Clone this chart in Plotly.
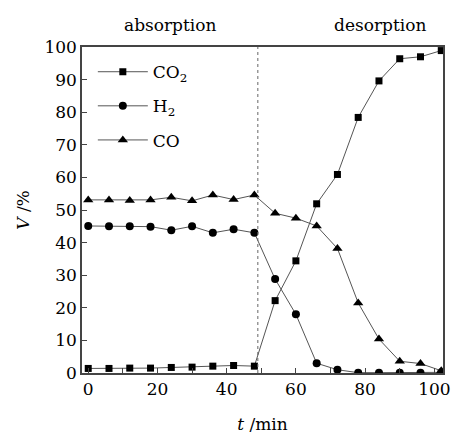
import plotly.graph_objects as go

# Sampling times (min) and gas volume fractions (%)
time_min = [0, 6, 12, 18, 24, 30, 36, 42, 48, 54, 60, 66, 72, 78, 84, 90, 96, 102]
co2 = [1.4, 1.4, 1.5, 1.5, 1.7, 1.8, 2.1, 2.3, 2.1, 22.2, 34.4, 51.9, 60.9, 78.4, 89.6, 96.4, 97.0, 98.9]
h2 = [45.1, 45.0, 45.0, 44.9, 43.8, 45.0, 43.0, 44.1, 43.0, 28.8, 18.0, 3.0, 1.0, 0.1, 0.1, 0.1, 0.1, 0.2]
co = [53.1, 53.1, 52.9, 53.1, 53.9, 52.8, 54.6, 53.2, 54.6, 49.0, 47.5, 45.1, 38.2, 21.5, 10.4, 3.6, 2.9, 0.7]

switch_time = 49
x_ticks = [0, 20, 40, 60, 80, 100]
y_ticks = [0, 10, 20, 30, 40, 50, 60, 70, 80, 90, 100]

FONT = "DejaVu Serif"
FS = 17
LINE_COLOR = "#555555"
AXIS_COLOR = "#444444"

series = [
    ("CO<sub>2</sub>", co2, "square", 7),
    ("H<sub>2</sub>", h2, "circle", 8),
    ("CO", co, "triangle-up", 9),
]

fig = go.Figure()
for i, (name, vals, sym, size) in enumerate(series):
    fig.add_trace(go.Scatter(
        x=time_min, y=vals, name=name, mode="lines+markers",
        legendgroup=f"g{i}",
        line=dict(color=LINE_COLOR, width=1),
        marker=dict(symbol=sym, size=size, color="black"),
    ))

# Boundary between absorption and desorption stages
fig.add_shape(type="line", xref="x", yref="paper", x0=switch_time, x1=switch_time,
              y0=0, y1=1, line=dict(color="#666666", width=1, dash="dot"))

W, H = 451, 435
L, R, T, B = 82, 8, 47, 62
pw, ph = W - L - R, H - T - B

# Stage labels above the plot area (pixel positions converted to paper units)
for label, px, py in [("absorption", 170, 25), ("desorption", 380, 25)]:
    fig.add_annotation(x=(px - L) / pw, y=(H - B - py) / ph, xref="paper", yref="paper",
                       xanchor="center", yanchor="middle", text=label, showarrow=False,
                       font=dict(family=FONT, size=FS, color="black"))

fig.update_layout(
    width=W, height=H,
    margin=dict(l=L, r=R, t=T, b=B, pad=0, autoexpand=False),
    paper_bgcolor="white", plot_bgcolor="white",
    font=dict(family=FONT, size=FS, color="black"),
    showlegend=True,
    legend=dict(x=0.03, y=0.978, xanchor="left", yanchor="top", itemwidth=50,
                bgcolor="rgba(0,0,0,0)", traceorder="grouped", tracegroupgap=9,
                font=dict(family=FONT, size=FS, color="black")),
    xaxis=dict(range=[-1.8, 102.5], tickvals=x_ticks, ticks="inside", ticklen=5,
               tickcolor=AXIS_COLOR, showline=True, linecolor=AXIS_COLOR, linewidth=1.5,
               mirror=True, showgrid=False, zeroline=False, automargin=False,
               tickfont=dict(family=FONT, size=FS),
               minor=dict(dtick=10, ticks="inside", ticklen=5, tickcolor=AXIS_COLOR),
               title=dict(text="<i>t</i> /min", standoff=20,
                          font=dict(family=FONT, size=FS))),
    yaxis=dict(range=[0, 100], tickvals=y_ticks, ticks="inside", ticklen=5,
               tickcolor=AXIS_COLOR, showline=True, linecolor=AXIS_COLOR, linewidth=1.5,
               mirror=True, showgrid=False, zeroline=False, automargin=False,
               tickfont=dict(family=FONT, size=FS),
               title=dict(text="<i>V</i> /%", standoff=10,
                          font=dict(family=FONT, size=FS))),
)

fig.write_html("out.html")
